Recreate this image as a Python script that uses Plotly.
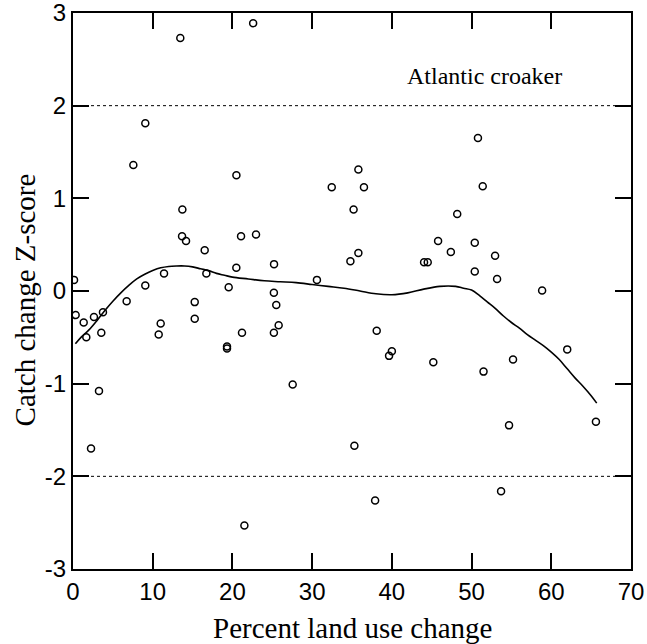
import plotly.graph_objects as go

# Scatter data: percent land use change vs catch change Z-score
x_pts = [13.46, 22.6, 9.07, 7.57, 20.5, 13.72, 13.68, 14.18, 16.52, 21.08,
         22.96, 0.13, 11.42, 16.73, 20.49, 9.07, 19.53, 6.73, 15.27, 0.33,
         1.34, 2.63, 3.76, 1.67, 3.55, 11.0, 10.75, 15.27, 21.2, 19.32,
         19.32, 3.26, 2.26, 21.5, 35.8, 32.46, 36.5, 35.2, 25.22, 35.8,
         34.8, 45.8, 44.04, 44.5, 47.4, 30.6, 25.2, 25.5, 25.8, 25.2,
         38.1, 40.0, 39.65, 45.2, 27.56, 35.3, 37.9, 50.8, 51.4, 48.2,
         50.4, 52.95, 50.4, 53.2, 58.85, 62.0, 55.2, 51.5, 54.7, 65.6, 53.7]
y_pts = [2.73, 2.89, 1.81, 1.36, 1.25, 0.88, 0.59, 0.54, 0.44, 0.59,
         0.61, 0.12, 0.19, 0.19, 0.25, 0.06, 0.04, -0.11, -0.12, -0.26,
         -0.34, -0.28, -0.23, -0.50, -0.45, -0.35, -0.47, -0.30, -0.45, -0.60,
         -0.62, -1.08, -1.70, -2.53, 1.31, 1.12, 1.12, 0.88, 0.29, 0.41,
         0.32, 0.54, 0.31, 0.31, 0.42, 0.12, -0.02, -0.15, -0.37, -0.45,
         -0.43, -0.65, -0.70, -0.77, -1.01, -1.67, -2.26, 1.65, 1.13, 0.83,
         0.52, 0.38, 0.21, 0.13, 0.005, -0.63, -0.74, -0.87, -1.45, -1.41, -2.16]

# Smoothed fit curve
curve_x = [0.3, 1, 2, 3, 4, 5, 6, 7, 8, 9, 10, 11, 12, 13, 14, 15, 16, 17, 18, 19,
           20, 22, 24, 26, 28, 30, 32, 34, 36, 38, 40, 42, 44, 46, 48, 49, 50, 51,
           52, 53, 54, 55, 56, 57, 58, 59, 60, 61, 62, 63, 64, 65, 65.7]
curve_y = [-0.57, -0.50, -0.42, -0.32, -0.21, -0.11, -0.02, 0.06, 0.13, 0.18,
           0.22, 0.25, 0.265, 0.27, 0.27, 0.26, 0.24, 0.22, 0.19, 0.17,
           0.15, 0.13, 0.11, 0.10, 0.09, 0.07, 0.05, 0.03, 0.00, -0.03,
           -0.04, -0.02, 0.02, 0.05, 0.05, 0.03, 0.01, -0.05,
           -0.12, -0.19, -0.27, -0.34, -0.40, -0.47, -0.53, -0.59, -0.66, -0.74,
           -0.84, -0.94, -1.03, -1.13, -1.21]

x_ticks = [0, 10, 20, 30, 40, 50, 60, 70]
x_ticktext = ["0", "10", "20", "30", "40", "50", "60", "70"]
y_ticks = [-3, -2, -1, 0, 1, 2, 3]
y_ticktext = ["-3", "-2", "-1", "0", "1", "2", "3"]
ref_levels = [-2, 2]

fig = go.Figure()
fig.add_trace(go.Scatter(x=curve_x, y=curve_y, mode="lines",
                         line=dict(color="black", width=1.6, shape="spline"),
                         showlegend=False, hoverinfo="skip"))
fig.add_trace(go.Scatter(x=x_pts, y=y_pts, mode="markers",
                         marker=dict(symbol="circle-open", size=7, color="black",
                                     line=dict(width=1.5, color="black")),
                         showlegend=False))

for lv in ref_levels:
    fig.add_shape(type="line", xref="paper", x0=0, x1=1, yref="y", y0=lv, y1=lv,
                  line=dict(color="black", width=1, dash="dot"))

axis_common = dict(showgrid=False, zeroline=False, showline=True, linecolor="black",
                   linewidth=2, mirror="ticks", ticks="inside", ticklen=16,
                   tickwidth=2, tickcolor="black", automargin=False,
                   ticklabeloverflow="allow",
                   tickfont=dict(family="Liberation Sans", size=24, color="black"))

fig.update_xaxes(range=[0, 70], tickvals=x_ticks, ticktext=x_ticktext, **axis_common)
fig.update_yaxes(range=[-3, 3], tickvals=y_ticks, ticktext=y_ticktext, **axis_common)

fig.add_annotation(text="Percent land use change", xref="paper", yref="paper",
                   x=0.5, y=-0.106, xanchor="center", yanchor="middle", showarrow=False,
                   font=dict(family="Liberation Serif", size=29, color="black"))
fig.add_annotation(text="Catch change Z-score", xref="paper", yref="paper",
                   x=-0.086, y=0.483, xanchor="center", yanchor="middle", showarrow=False,
                   textangle=-90,
                   font=dict(family="Liberation Serif", size=29, color="black"))
fig.add_annotation(text="Atlantic croaker", xref="x", yref="y",
                   x=51.6, y=2.32, xanchor="center", yanchor="middle", showarrow=False,
                   font=dict(family="Liberation Serif", size=24, color="black"))

fig.update_layout(width=647, height=644,
                  margin=dict(l=73, r=16, t=13, b=75, autoexpand=False),
                  paper_bgcolor="white", plot_bgcolor="white")

fig.write_html("out.html")
